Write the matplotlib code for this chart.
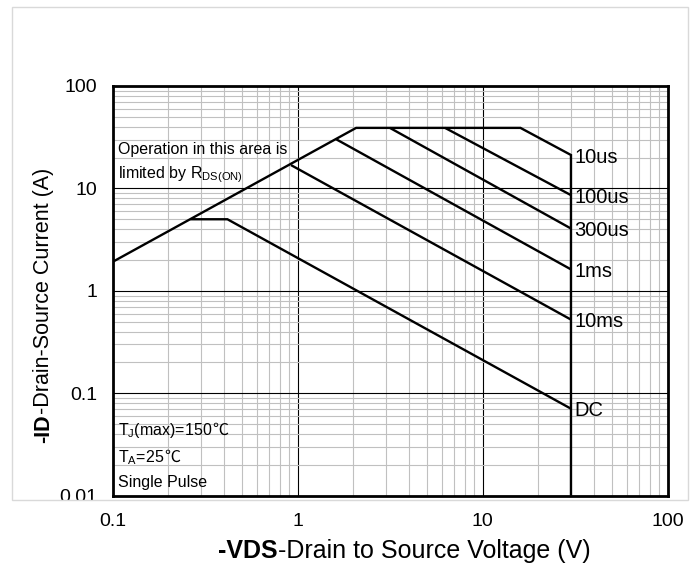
import matplotlib
matplotlib.use("Agg")
import matplotlib.pyplot as plt
from matplotlib.patches import Rectangle
from matplotlib.ticker import LogLocator, NullFormatter, FixedLocator, FixedFormatter

plt.rcParams['font.family'] = ['Liberation Sans', 'DejaVu Sans']
plt.rcParams['mathtext.fontset'] = 'custom'
plt.rcParams['mathtext.rm'] = 'Liberation Sans'
plt.rcParams['mathtext.it'] = 'Liberation Sans:italic'
plt.rcParams['mathtext.bf'] = 'Liberation Sans:bold'

# safe operating area curves, -VDS (V) vs -ID (A)
limit_v = [0.1, 2.07, 16.0, 30, 30]          # RDS(on) line, current limit, 10us, 30V
limit_i = [1.92, 39, 39, 21.2, 0.01]
us100_v = [6.26, 30]
us100_i = [39, 8.6]
us300_v = [3.15, 30]
us300_i = [39, 4.06]
ms1_v = [1.62, 30]
ms1_i = [30.1, 1.62]
ms10_v = [0.92, 30]
ms10_i = [16.9, 0.524]
dc_v = [0.263, 0.417, 30]
dc_i = [5.0, 5.0, 0.0707]

curve_labels = ["10us", "100us", "300us", "1ms", "10ms", "DC"]
label_i = [21.2, 8.6, 4.06, 1.62, 0.524, 0.0707]
label_v = 30

x_ticks = [0.1, 1, 10, 100]
x_ticklabels = ["0.1", "1", "10", "100"]
y_ticks = [0.01, 0.1, 1, 10, 100]
y_ticklabels = ["0.01", "0.1", "1", "10", "100"]

W, H = 697, 565
fig = plt.figure(figsize=(W / 100, H / 100), dpi=100)
ax = fig.add_axes([112.7 / W, 1 - 495.7 / H, 555 / W, 409.7 / H])

ax.set_xscale('log')
ax.set_yscale('log')
ax.set_xlim(0.1, 100)
ax.set_ylim(0.01, 100)

ax.xaxis.set_major_locator(FixedLocator(x_ticks))
ax.xaxis.set_major_formatter(FixedFormatter(x_ticklabels))
ax.yaxis.set_major_locator(FixedLocator(y_ticks))
ax.yaxis.set_major_formatter(FixedFormatter(y_ticklabels))
ax.xaxis.set_minor_locator(LogLocator(base=10, subs=range(2, 10), numticks=20))
ax.yaxis.set_minor_locator(LogLocator(base=10, subs=range(2, 10), numticks=20))
ax.xaxis.set_minor_formatter(NullFormatter())
ax.yaxis.set_minor_formatter(NullFormatter())

ax.grid(which='minor', color='#c0c0c0', linewidth=0.8)
ax.grid(which='major', color='black', linewidth=0.8)
ax.set_axisbelow(True)
ax.tick_params(which='both', length=0, labelsize=14)
ax.tick_params(axis='y', pad=11.3)
ax.tick_params(axis='x', pad=12.5)
for s in ax.spines.values():
    s.set_linewidth(2.0)
    s.set_color('black')

lw = 1.7
for xs, ys in [(limit_v, limit_i), (us100_v, us100_i), (us300_v, us300_i),
               (ms1_v, ms1_i), (ms10_v, ms10_i), (dc_v, dc_i)]:
    ax.plot(xs, ys, color='black', linewidth=lw, solid_capstyle='butt',
            solid_joinstyle='miter', zorder=3)

for lab, yi in zip(curve_labels, label_i):
    ax.annotate(lab, xy=(label_v, yi), xytext=(2.5, -1.5), textcoords='offset points',
                ha='left', va='center', fontsize=14.5)

# notes inside the plot
ax.text(0.0095, 0.8438, "Operation in this area is", transform=ax.transAxes,
        fontsize=11.5, va='center', ha='left')
ax.text(0.0095, 0.7828, r"limited by R$_\mathregular{DS(ON)}$", transform=ax.transAxes,
        fontsize=11.5, va='center', ha='left')
for txt, yb in [(r"T$_\mathregular{J}$(max)=150", 0.148), (r"T$_\mathregular{A}$=25", 0.0823)]:
    t = ax.text(0.0095, yb, txt, transform=ax.transAxes,
                fontsize=11.5, va='baseline', ha='left')
    ax.annotate("℃", xy=(1, yb), xycoords=(t, ax.transAxes), va='baseline',
                ha='left', fontsize=11.5, family='Noto Sans CJK SC')
ax.text(0.0095, 0.031, "Single Pulse", transform=ax.transAxes,
        fontsize=11.5, va='center', ha='left')

# axis titles with bold prefix
xt = fig.text(218 / W, 1 - 551 / H, "-VDS", fontsize=18, weight='bold',
              ha='left', va='center')
ax.annotate("-Drain to Source Voltage (V)", xy=(1, 0), xycoords=xt,
            ha='left', va='bottom', fontsize=18, annotation_clip=False)
yt = fig.text(44 / W, 1 - 443 / H, "-ID", fontsize=15.5, weight='bold',
              rotation=90, ha='center', va='bottom')
ax.annotate("-Drain-Source Current (A)", xy=(0.5, 1), xycoords=yt, rotation=90,
            ha='center', va='bottom', fontsize=15.5, annotation_clip=False)

# chart area frame
fig.add_artist(Rectangle((55 / W, 1 - 509 / H), 55 / W, 8.5 / H,
                         transform=fig.transFigure, facecolor='white',
                         edgecolor='none', zorder=5))
fig.add_artist(Rectangle((12 / W, 1 - 500 / H), 676 / W, 493 / H,
                         transform=fig.transFigure, facecolor='none',
                         edgecolor='#d9d9d9', linewidth=1.0, zorder=6))

fig.savefig("out.png", dpi=100)
